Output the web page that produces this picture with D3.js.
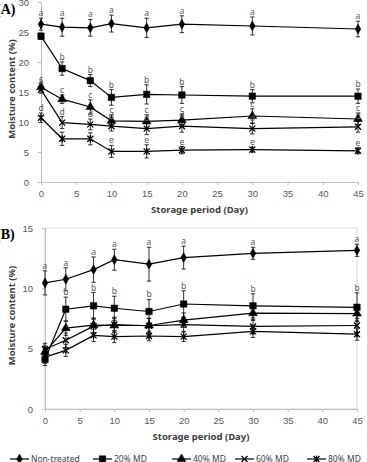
<!DOCTYPE html>
<html>
<head>
<meta charset="utf-8">
<script src="https://cdn.jsdelivr.net/npm/d3@7"></script>
<style>
  body { margin: 0; background: #fff; }
  svg { display: block; font-family: "Noto Sans", "Open Sans", sans-serif; }
</style>
</head>
<body>
<div id="chart"></div>
<script>
const width = 367;
const height = 462;

const days = [0, 3, 7, 10, 15, 20, 30, 45];
const seriesNames = ['Non-treated', '20% MD', '40% MD', '60% MD', '80% MD'];
const markers = ['diamond', 'square', 'triangle', 'times', 'star'];

// panel A
const aNon = [26.3, 25.8, 25.7, 26.4, 25.7, 26.3, 26.0, 25.5];
const a20 = [24.3, 18.9, 16.9, 14.1, 14.6, 14.5, 14.3, 14.3];
const a40 = [15.8, 13.8, 12.5, 10.2, 10.1, 10.3, 11.0, 10.5];
const a60 = [15.4, 9.9, 9.6, 9.3, 8.9, 9.3, 8.9, 9.2];
const a80 = [10.7, 7.2, 7.2, 5.1, 5.1, 5.3, 5.4, 5.2];
const aNonErr = [1.0, 1.5, 1.4, 1.4, 1.6, 1.4, 1.5, 1.3];
const a20Err = [0.5, 1.1, 1.0, 1.3, 1.6, 1.4, 1.1, 1.2];
const a40Err = [0.6, 0.7, 1.2, 1.0, 1.1, 1.0, 1.2, 1.0];
const a60Err = [0.6, 1.0, 0.9, 0.8, 1.0, 1.0, 0.9, 0.9];
const a80Err = [0.8, 1.1, 1.0, 1.0, 1.1, 0.6, 0.4, 0.5];
const aNonLab = ['a', 'a', 'a', 'a', 'a', 'a', 'a', 'a'];
const a20Lab = ['', 'b', 'b', 'b', 'b', 'b', 'b', 'b'];
const a40Lab = ['c', 'c', 'c', 'c', 'c', 'c', 'c', 'c'];
const a60Lab = ['a', 'd', 'd', 'd', 'd', 'd', 'd', 'd'];
const a80Lab = ['d', '', '', 'e', 'e', 'e', 'e', 'e'];

// panel B
const bNon = [10.45, 10.75, 11.55, 12.37, 12.0, 12.55, 12.9, 13.15];
const b20 = [4.1, 8.27, 8.55, 8.35, 8.08, 8.7, 8.55, 8.43];
const b40 = [4.72, 6.7, 6.95, 6.92, 6.92, 7.36, 7.94, 7.91];
const b60 = [4.95, 5.7, 6.87, 7.0, 6.9, 7.0, 6.84, 6.92];
const b80 = [4.3, 4.86, 6.1, 6.0, 6.05, 6.0, 6.43, 6.2];
const bNonErr = [1.0, 0.95, 1.05, 0.87, 1.4, 0.95, 0.5, 0.5];
const b20Err = [0.5, 1.0, 1.1, 1.0, 1.0, 1.1, 1.0, 1.2];
const b40Err = [0.5, 0.6, 0.6, 0.6, 0.6, 0.6, 0.6, 0.6];
const b60Err = [0.5, 0.6, 0.6, 0.6, 0.6, 0.6, 0.6, 0.6];
const b80Err = [0.5, 0.5, 0.5, 0.5, 0.4, 0.4, 0.5, 0.5];
const bNonLab = ['a', 'a', 'a', 'a', 'a', 'a', 'a', 'a'];
const b20Lab = ['b', 'b', 'b', 'b', 'b', 'b', 'b', 'b'];

const xTicks = [0, 5, 10, 15, 20, 25, 30, 35, 40, 45];

const svg = d3.select('#chart')
    .append('svg')
    .attr('width', width)
    .attr('height', height);

function markerPath(type) {
    if (type === 'diamond') return d3.symbol(d3.symbolDiamond, 28)();
    if (type === 'square') return d3.symbol(d3.symbolSquare, 42)();
    if (type === 'triangle') return d3.symbol(d3.symbolTriangle, 34)();
    if (type === 'times') return 'M-3,-3L3,3M-3,3L3,-3';
    return 'M-3,-3L3,3M-3,3L3,-3M0,-3.5L0,3.5';
}

function drawMarker(g, type, x, y) {
    const filled = type === 'diamond' || type === 'square' || type === 'triangle';
    g.append('path')
        .attr('d', markerPath(type))
        .attr('transform', `translate(${x},${y})`)
        .attr('fill', filled ? '#000' : 'none')
        .attr('stroke', '#000')
        .attr('stroke-width', filled ? 0.5 : 1.3);
}

function drawPanel(opt) {
    const g = svg.append('g');
    const x = d3.scaleLinear().domain([0, 45]).range([opt.left, opt.right]);
    const y = d3.scaleLinear().domain([0, opt.yMax]).range([opt.bottom, opt.top]);

    // plot area frame
    if (opt.frame) {
        g.append('rect')
            .attr('x', opt.left).attr('y', opt.top)
            .attr('width', opt.right - opt.left).attr('height', opt.bottom - opt.top)
            .attr('fill', 'none').attr('stroke', '#d9d9d9').attr('stroke-width', 1);
    }

    const yAxis = g.append('g')
        .attr('transform', `translate(${opt.left},0)`)
        .call(d3.axisLeft(y).tickValues(opt.yTicks).tickSize(3).tickPadding(9));
    const xAxis = g.append('g')
        .attr('transform', `translate(0,${opt.bottom})`)
        .call(d3.axisBottom(x).tickValues(xTicks).tickSize(3).tickPadding(5));
    [xAxis, yAxis].forEach(a => {
        a.select('.domain').attr('stroke', '#bfbfbf');
        a.selectAll('.tick line').attr('stroke', '#bfbfbf');
        a.selectAll('text').attr('fill', '#595959').attr('font-size', 9.5);
    });

    g.append('text')
        .attr('x', (opt.left + opt.right) / 2)
        .attr('y', opt.bottom + 31)
        .attr('text-anchor', 'middle')
        .attr('font-size', 9.5)
        .attr('font-weight', 'bold')
        .attr('fill', '#404040')
        .text('Storage period (Day)');

    g.append('text')
        .attr('transform', `translate(15,${(opt.top + opt.bottom) / 2 - 3}) rotate(-90)`)
        .attr('text-anchor', 'middle')
        .attr('font-size', 9.5)
        .attr('font-weight', 'bold')
        .attr('fill', '#404040')
        .text('Moisture content (%)');

    g.append('text')
        .attr('x', -4)
        .attr('y', opt.top + opt.labelDy)
        .attr('font-family', '"Liberation Serif", serif')
        .attr('font-weight', 'bold')
        .attr('font-size', 14)
        .attr('fill', '#000')
        .text(opt.label);

    const line = d3.line().x((d, i) => x(days[i])).y(d => y(d));

    opt.series.forEach((s, k) => {
        const sg = g.append('g');
        // error bars
        s.values.forEach((v, i) => {
            const cx = x(days[i]);
            const y0 = y(v - s.err[i]);
            const y1 = y(v + s.err[i]);
            sg.append('line').attr('x1', cx).attr('x2', cx).attr('y1', y0).attr('y2', y1)
                .attr('stroke', '#000').attr('stroke-width', 0.8);
            [y0, y1].forEach(yy => sg.append('line')
                .attr('x1', cx - 2.2).attr('x2', cx + 2.2).attr('y1', yy).attr('y2', yy)
                .attr('stroke', '#000').attr('stroke-width', 0.8));
            if (s.labels && s.labels[i]) {
                sg.append('text')
                    .attr('x', cx)
                    .attr('y', y1 - 2)
                    .attr('text-anchor', 'middle')
                    .attr('font-size', 8.5)
                    .attr('fill', '#595959')
                    .text(s.labels[i]);
            }
        });
        sg.append('path')
            .attr('d', line(s.values))
            .attr('fill', 'none')
            .attr('stroke', '#000')
            .attr('stroke-width', 1.2);
        s.values.forEach((v, i) => drawMarker(sg, markers[k], x(days[i]), y(v)));
    });
}

drawPanel({
    label: '(A)', labelDy: 12,
    left: 41, right: 358, top: 2, bottom: 182, yMax: 30,
    yTicks: [0, 5, 10, 15, 20, 25, 30], frame: false,
    series: [
        { values: aNon, err: aNonErr, labels: aNonLab },
        { values: a20, err: a20Err, labels: a20Lab },
        { values: a40, err: a40Err, labels: a40Lab },
        { values: a60, err: a60Err, labels: a60Lab },
        { values: a80, err: a80Err, labels: a80Lab }
    ]
});

drawPanel({
    label: '(B)', labelDy: 11,
    left: 45, right: 357, top: 228, bottom: 409, yMax: 15,
    yTicks: [0, 5, 10, 15], frame: true,
    series: [
        { values: bNon, err: bNonErr, labels: bNonLab },
        { values: b20, err: b20Err, labels: b20Lab },
        { values: b40, err: b40Err, labels: null },
        { values: b60, err: b60Err, labels: null },
        { values: b80, err: b80Err, labels: null }
    ]
});

// legend
const legendX = [10, 93, 172, 235, 307];
const legend = svg.append('g').attr('transform', 'translate(0,459)');
seriesNames.forEach((name, k) => {
    const lg = legend.append('g').attr('transform', `translate(${legendX[k]},0)`);
    lg.append('line').attr('x1', 0).attr('x2', 19).attr('y1', 0).attr('y2', 0)
        .attr('stroke', '#000').attr('stroke-width', 1.2);
    drawMarker(lg, markers[k], 9.5, 0);
    lg.append('text')
        .attr('x', 21)
        .attr('y', 3)
        .attr('font-size', 8.5)
        .attr('fill', '#404040')
        .text(name);
});
</script>
</body>
</html>
